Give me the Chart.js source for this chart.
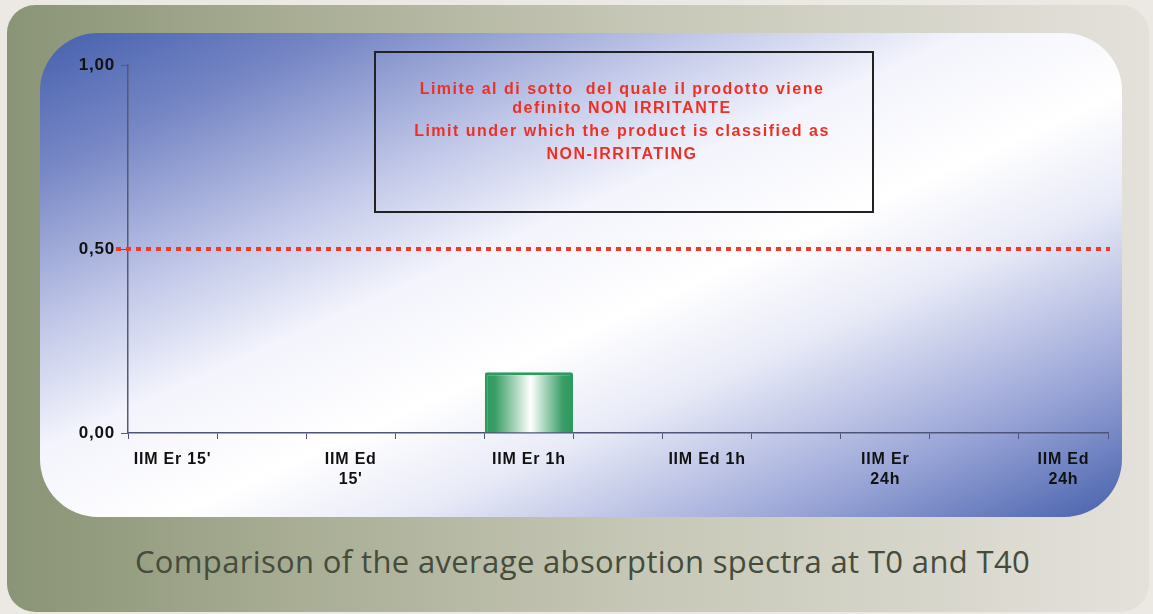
<!DOCTYPE html>
<html>
<head>
<meta charset="utf-8">
<script src="https://cdn.jsdelivr.net/npm/chart.js@4.4.0/dist/chart.umd.min.js"></script>
<style>
  html, body { margin: 0; padding: 0; background: #ece9e5; width: 1153px; height: 614px; overflow: hidden; }
  #panel {
    position: absolute; left: 7px; top: 5px; width: 1142px; height: 607px;
    border-radius: 28px;
    background: linear-gradient(to right, #8a9476 0%, #a8ad94 25%, #c6c7b6 55%, #e4e1db 100%);
  }
  #card {
    position: absolute; left: 40px; top: 33px; width: 1082px; height: 484px;
    border-radius: 58px; overflow: hidden;
    background: linear-gradient(to bottom right, #4560ad 0%, #7686c5 14%, #c3c9e9 31%, #f3f4fc 43%, #ffffff 56%, #e8eaf7 67%, #9ca7d8 84%, #4761ad 100%);
  }
  #caption {
    position: absolute; left: 6px; width: 1153px; top: 540px; text-align: center;
    font-family: "Open Sans", sans-serif; font-size: 31px; color: #454c3c; letter-spacing: 0.35px;
  }
</style>
</head>
<body>
<div id="panel"></div>
<div id="card"><canvas id="barChart" width="1082" height="484"></canvas></div>
<div id="caption">Comparison of the average absorption spectra at T0 and T40</div>
<script>
// categories (every other label hidden as in the original)
const categories = ["IIM Er 15'", "", ["IIM Ed", "15'"], "", "IIM Er 1h", "", "IIM Ed 1h", "", ["IIM Er", "24h"], "", ["IIM Ed", "24h"]];
const irritationValues = [null, null, null, null, 0.165, null, null, null, null, null, null];
const yTicks = [0, 0.5, 1];
const limitValue = 0.5;
const noteLines = [
  "Limite al di sotto  del quale il prodotto viene",
  "definito NON IRRITANTE",
  "Limit under which the product is classified as",
  "NON-IRRITATING"
];

// green bar with a white highlight in the middle
const barFill = (context) => {
  const chart = context.chart;
  const x = chart.scales.x;
  if (!x || context.dataIndex === undefined) return "#2f9a60";
  const c = x.getPixelForValue(context.dataIndex);
  const w = x.width / categories.length;
  if (!isFinite(c) || !isFinite(w)) return "#2f9a60";
  const g = chart.ctx.createLinearGradient(c - w / 2, 0, c + w / 2, 0);
  g.addColorStop(0, "#2c985c");
  g.addColorStop(0.12, "#3a9e66");
  g.addColorStop(0.52, "#ffffff");
  g.addColorStop(0.88, "#3a9e66");
  g.addColorStop(1, "#2c985c");
  return g;
};

// wider letter spacing for the axis labels, like the original
const spacingPlugin = {
  id: "spacing",
  beforeInit(chart) { chart.ctx.letterSpacing = "0.8px"; },
  beforeDraw(chart) { chart.ctx.letterSpacing = "0.8px"; }
};

// dotted limit line + the note box
const limitPlugin = {
  id: "limitLine",
  beforeDatasetsDraw(chart) {
    const { ctx, chartArea, scales } = chart;
    const y = scales.y.getPixelForValue(limitValue);
    ctx.save();
    ctx.strokeStyle = "#f03a2a";
    ctx.lineWidth = 4;
    ctx.setLineDash([5, 5]);
    ctx.beginPath();
    ctx.moveTo(chartArea.left - 12, y);
    ctx.lineTo(chartArea.right + 2, y);
    ctx.stroke();
    ctx.restore();
  },
  afterDraw(chart) {
    const { ctx } = chart;
    ctx.save();
    ctx.strokeStyle = "#222";
    ctx.lineWidth = 2;
    ctx.strokeRect(335, 19, 498, 160);
    ctx.fillStyle = "#ee3024";
    ctx.font = "bold 16px 'Liberation Sans', Arial, sans-serif";
    ctx.letterSpacing = "1.5px";
    ctx.textAlign = "center";
    ctx.textBaseline = "middle";
    const ys = [57, 76, 99, 122];
    noteLines.forEach((t, i) => ctx.fillText(t, 582, ys[i]));
    ctx.restore();
  }
};

const ctx = document.getElementById("barChart").getContext("2d");
new Chart(ctx, {
  type: "bar",
  data: {
    labels: categories,
    datasets: [
      {
        label: "IIM",
        data: irritationValues,
        backgroundColor: barFill,
        borderColor: "#2f9a60",
        borderWidth: 3,
        borderRadius: 2,
        borderSkipped: "bottom",
        barPercentage: 1,
        categoryPercentage: 0.99,
      },
    ],
  },
  options: {
    responsive: false,
    animation: false,
    layout: { padding: { top: 32, right: 14, left: 0, bottom: 0 } },
    plugins: { legend: { display: false }, tooltip: { enabled: false } },
    scales: {
      x: {
        offset: true,
        afterFit: (scale) => { scale.height = 84; },
        border: { color: "#4f5578", width: 1.5 },
        grid: { drawOnChartArea: false, drawTicks: true, tickLength: 6, color: "#4f5578", offset: true },
        ticks: {
          autoSkip: false,
          maxRotation: 0,
          padding: 11,
          color: "#111",
          font: { family: "'Liberation Sans', Arial, sans-serif", size: 16, weight: "bold", lineHeight: 1.25 },
        },
      },
      y: {
        min: 0,
        max: 1,
        afterFit: (scale) => { scale.width = 88; },
        afterBuildTicks: (scale) => { scale.ticks = yTicks.map((v) => ({ value: v })); },
        border: { color: "#555a70", width: 1.5 },
        grid: { drawOnChartArea: false, drawTicks: true, tickLength: 7, color: "#555a70" },
        ticks: {
          padding: 6,
          color: "#111",
          font: { family: "'Liberation Sans', Arial, sans-serif", size: 17, weight: "bold" },
          callback: (v) => v.toFixed(2).replace(".", ","),
        },
      },
    },
  },
  plugins: [spacingPlugin, limitPlugin],
});
</script>
</body>
</html>
